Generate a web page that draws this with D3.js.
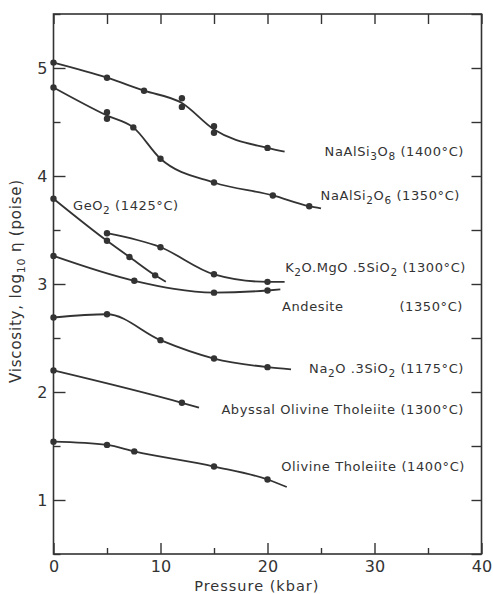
<!DOCTYPE html>
<html>
<head>
<meta charset="utf-8">
<script src="https://cdn.jsdelivr.net/npm/d3@7"></script>
<style>
  body { margin: 0; background: #fff; }
  text { font-family: "DejaVu Sans", sans-serif; fill: #333; }
</style>
</head>
<body>
<div id="chart"></div>
<script>
// measured points (pressure kbar, log10 viscosity) per melt
const albitePts = [[0, 5.05], [5, 4.91], [8.46, 4.79], [12, 4.72], [12, 4.64], [15, 4.46], [15, 4.40], [20, 4.26]];
const albiteLine = [[0, 5.05], [5, 4.91], [8.46, 4.79], [12, 4.675], [15, 4.43], [20, 4.26], [21.6, 4.225]];

const jadeitePts = [[0, 4.82], [5, 4.59], [5, 4.53], [7.46, 4.45], [10, 4.16], [15, 3.94], [20.5, 3.82], [23.9, 3.72]];
const jadeiteLine = [[0, 4.82], [5, 4.56], [7.46, 4.45], [10, 4.16], [15, 3.94], [20.5, 3.82], [23.9, 3.72], [25, 3.70]];

const geo2Pts = [[0, 3.79], [5, 3.40], [7.1, 3.25], [9.5, 3.08]];
const geo2Line = [[0, 3.79], [5, 3.40], [7.1, 3.25], [9.5, 3.08], [10.5, 3.02]];

const kmgPts = [[5, 3.47], [10, 3.34], [15, 3.09], [20, 3.02]];
const kmgLine = [[5, 3.47], [10, 3.34], [15, 3.09], [20, 3.02], [21.6, 3.02]];

const andesitePts = [[0, 3.26], [7.55, 3.03], [15, 2.92], [20, 2.94]];
const andesiteLine = [[0, 3.26], [7.55, 3.03], [15, 2.92], [20, 2.94], [21.2, 2.95]];

const sodaPts = [[0, 2.69], [5, 2.72], [10, 2.48], [15, 2.31], [20, 2.23]];
const sodaLine = [[0, 2.69], [5, 2.72], [10, 2.48], [15, 2.31], [20, 2.23], [22.2, 2.21]];

const abyssalPts = [[0, 2.20], [12, 1.90]];
const abyssalLine = [[0, 2.20], [12, 1.90], [13.6, 1.855]];

const tholeiitePts = [[0, 1.54], [5, 1.51], [7.55, 1.45], [15, 1.31], [20, 1.19]];
const tholeiiteLine = [[0, 1.54], [5, 1.51], [7.55, 1.45], [15, 1.31], [20, 1.19], [21.8, 1.12]];

// label text segments: [text, isSubscript]
const labelParts = [
  [["NaAlSi"], ["3", 1], ["O"], ["8", 1], [" (1400°C)"]],
  [["NaAlSi"], ["2", 1], ["O"], ["6", 1], [" (1350°C)"]],
  [["GeO"], ["2", 1], [" (1425°C)"]],
  [["K"], ["2", 1], ["O.MgO .5SiO"], ["2", 1], [" (1300°C)"]],
  [["Andesite"]],
  [["(1350°C)"]],
  [["Na"], ["2", 1], ["O .3SiO"], ["2", 1], [" (1175°C)"]],
  [["Abyssal Olivine Tholeiite (1300°C)"]],
  [["Olivine Tholeiite (1400°C)"]]
];

const xMajor = [0, 10, 20, 30, 40];
const xMinor = [5, 15, 25, 35];
const yMajor = [1, 2, 3, 4, 5];
const yMinor = [0.5, 1.5, 2.5, 3.5, 4.5, 5.5];

const series = [
  [albitePts, albiteLine], [jadeitePts, jadeiteLine], [geo2Pts, geo2Line], [kmgPts, kmgLine],
  [andesitePts, andesiteLine], [sodaPts, sodaLine], [abyssalPts, abyssalLine], [tholeiitePts, tholeiiteLine]
];

// label layout in pixels (x, baseline y, anchor)
const labelPos = [
  [464, 156, 'end'], [460, 200, 'end'], [73, 210, 'start'], [466, 272, 'end'],
  [282, 311, 'start'], [463, 311, 'end'], [464, 373, 'end'], [464, 414, 'end'], [465, 471, 'end']
];

const W = 493, H = 594;
const m = { top: 14, right: 11.5, bottom: 40, left: 53.5 };
const w = W - m.left - m.right, h = H - m.top - m.bottom;
const ink = '#333';

const svg = d3.select('#chart').append('svg')
  .attr('width', W).attr('height', H);
const g = svg.append('g').attr('transform', `translate(${m.left},${m.top})`);

const x = d3.scaleLinear().domain([0, 40]).range([0, w]);
const y = d3.scaleLinear().domain([0.5, 5.5]).range([h, 0]);

function styleAxis(sel) {
  sel.select('.domain').remove();
  sel.selectAll('line').attr('stroke', ink).attr('stroke-width', 1.4);
  sel.selectAll('text').attr('fill', ink).style('font-size', '16px');
}

// bottom
g.append('g').attr('transform', `translate(0,${h})`)
  .call(d3.axisBottom(x).tickValues(xMajor).tickSize(-11).tickPadding(7).tickFormat(d3.format('d')))
  .call(styleAxis);
g.append('g').attr('transform', `translate(0,${h})`)
  .call(d3.axisBottom(x).tickValues(xMinor).tickSize(-6).tickFormat(''))
  .call(styleAxis);
// left
g.append('g')
  .call(d3.axisLeft(y).tickValues(yMajor).tickSize(-12).tickPadding(6).tickFormat(d3.format('d')))
  .call(styleAxis);
g.append('g')
  .call(d3.axisLeft(y).tickValues(yMinor).tickSize(-7).tickFormat(''))
  .call(styleAxis);
// top and right
g.append('g')
  .call(d3.axisTop(x).tickValues(xMajor.concat(xMinor)).tickSize(-10).tickFormat(''))
  .call(styleAxis);
g.append('g').attr('transform', `translate(${w},0)`)
  .call(d3.axisRight(y).tickValues(yMajor.concat(yMinor)).tickSize(-10).tickFormat(''))
  .call(styleAxis);

g.append('rect').attr('width', w).attr('height', h)
  .attr('fill', 'none').attr('stroke', ink).attr('stroke-width', 1.6);

const line = d3.line().x(d => x(d[0])).y(d => y(d[1])).curve(d3.curveMonotoneX);

series.forEach(([pts, ln]) => {
  g.append('path').datum(ln)
    .attr('d', line)
    .attr('fill', 'none').attr('stroke', ink).attr('stroke-width', 1.8);
  g.selectAll(null).data(pts).enter().append('circle')
    .attr('cx', d => x(d[0])).attr('cy', d => y(d[1]))
    .attr('r', 3.2).attr('fill', ink);
});

labelParts.forEach((parts, i) => {
  const [lx, ly, anchor] = labelPos[i];
  const t = svg.append('text').attr('x', lx).attr('y', ly)
    .attr('text-anchor', anchor)
    .style('font-size', '13px').style('letter-spacing', '0.6px');
  parts.forEach(([s, sub], j) => {
    const prevSub = j > 0 && parts[j - 1][1];
    const ts = t.append('tspan').text(s);
    if (sub) ts.attr('dy', 3.5).style('font-size', '10.5px');
    else if (prevSub) ts.attr('dy', -3.5);
  });
});

// axis titles
svg.append('text')
  .attr('x', m.left + x(19)).attr('y', 591)
  .attr('text-anchor', 'middle')
  .style('font-size', '14.5px').style('letter-spacing', '1px')
  .text('Pressure (kbar)');

const yt = svg.append('text')
  .attr('transform', 'translate(21,281) rotate(-90)')
  .attr('text-anchor', 'middle')
  .style('font-size', '15px').style('letter-spacing', '0.8px');
yt.append('tspan').text('Viscosity, log');
yt.append('tspan').text('10').attr('dy', 4).style('font-size', '11px');
yt.append('tspan').text(' η (poise)').attr('dy', -4);
</script>
</body>
</html>
